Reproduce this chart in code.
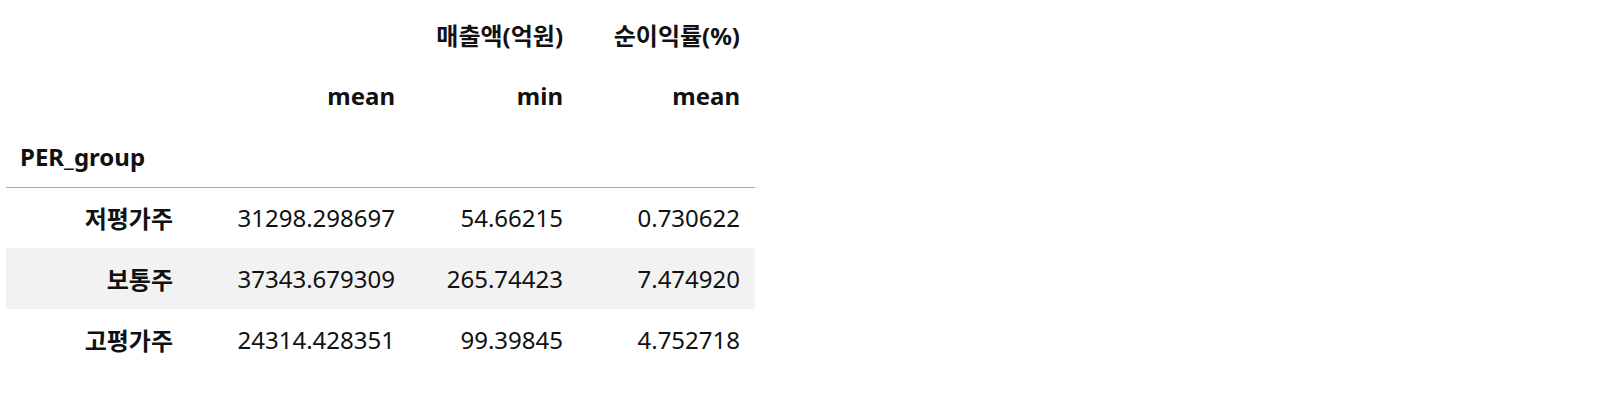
import React from 'react';

const topHeaders = ['', '매출액(억원)', '순이익률(%)'];
const topSpans = [1, 2, 1];
const subHeaders = ['', 'mean', 'min', 'mean'];
const indexName = 'PER_group';
const groups = ['저평가주', '보통주', '고평가주'];
const salesMean = ['31298.298697', '37343.679309', '24314.428351'];
const salesMin = ['54.66215', '265.74423', '99.39845'];
const marginMean = ['0.730622', '7.474920', '4.752718'];

const colWidths = [182, 222, 168, 177];
const font = '"Noto Sans", "Noto Sans CJK KR", sans-serif';

const cell = (i: number, bold: boolean, align: 'left' | 'right' = 'right'): React.CSSProperties => ({
  width: colWidths[i],
  height: 61,
  padding: '0 15px 0 0',
  boxSizing: 'border-box',
  textAlign: align,
  verticalAlign: 'middle',
  fontWeight: bold ? 700 : 400,
  whiteSpace: 'nowrap',
});

export default function App() {
  const rows = groups.map((g, i) => [g, salesMean[i], salesMin[i], marginMean[i]]);
  return (
    <div style={{ position: 'absolute', left: 6, top: 4, width: 1610, height: 390, fontFamily: font, fontSize: 24, color: '#111' }}>
      <table style={{ borderCollapse: 'collapse', tableLayout: 'fixed', width: 749 }}>
        <colgroup>
          {colWidths.map((w, i) => <col key={i} style={{ width: w }} />)}
        </colgroup>
        <thead>
          <tr>
            {topHeaders.map((h, i) => (
              <th key={i} style={{ ...cell(i, true), width: undefined }} colSpan={topSpans[i]}>{h}</th>
            ))}
          </tr>
          <tr>
            {subHeaders.map((h, i) => (
              <th key={i} style={cell(i, true)}>{h}</th>
            ))}
          </tr>
          <tr style={{ borderBottom: '1.5px solid #aaa' }}>
            <th style={{ ...cell(0, true, 'left'), paddingLeft: 14 }}>{indexName}</th>
            <th style={cell(1, true)} />
            <th style={cell(2, true)} />
            <th style={cell(3, true)} />
          </tr>
        </thead>
        <tbody>
          {rows.map((r, ri) => (
            <tr key={ri} style={{ background: ri === 1 ? '#f2f2f2' : 'transparent' }}>
              {r.map((v, ci) => (
                <td key={ci} style={cell(ci, ci === 0)}>{v}</td>
              ))}
            </tr>
          ))}
        </tbody>
      </table>
    </div>
  );
}
